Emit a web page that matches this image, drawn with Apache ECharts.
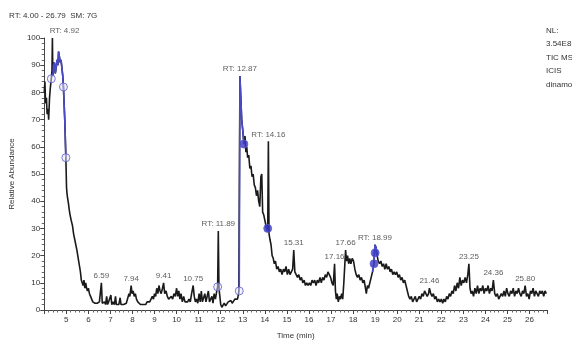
<!DOCTYPE html>
<html>
<head>
<meta charset="utf-8">
<script src="https://cdn.jsdelivr.net/npm/echarts@6/dist/echarts.min.js"></script>
<style>
  html, body { margin: 0; padding: 0; background: #fff; }
  #chart { width: 572px; height: 347px; }
</style>
</head>
<body>
<div id="chart"></div>
<script>
// retention time (min) and relative abundance
const retTime = [
  4.00, 4.03, 4.06, 4.10, 4.13, 4.17, 4.20, 4.24, 4.28, 4.32, 4.35, 4.37, 4.39, 4.42, 4.46, 4.50,
  4.54, 4.58, 4.62, 4.65, 4.69, 4.72, 4.76, 4.80, 4.84, 4.87, 4.93, 4.98, 5.01, 5.03, 5.06, 5.10,
  5.13, 5.17, 5.22, 5.28, 5.33, 5.38, 5.43, 5.48, 5.52, 5.56, 5.60, 5.64, 5.68, 5.72, 5.76, 5.80,
  5.84, 5.88, 5.92, 5.96, 6.00, 6.05, 6.10, 6.15, 6.20, 6.25, 6.30, 6.35, 6.40, 6.45, 6.50, 6.55,
  6.59, 6.63, 6.68, 6.73, 6.78, 6.83, 6.87, 6.92, 6.97, 7.02, 7.06, 7.12, 7.18, 7.23, 7.27, 7.33,
  7.38, 7.44, 7.48, 7.54, 7.60, 7.66, 7.72, 7.78, 7.84, 7.88, 7.94, 7.98, 8.03, 8.08, 8.13, 8.18,
  8.24, 8.30, 8.36, 8.42, 8.48, 8.54, 8.60, 8.66, 8.72, 8.78, 8.84, 8.90, 8.95, 9.00, 9.05, 9.10,
  9.15, 9.20, 9.25, 9.30, 9.36, 9.41, 9.46, 9.52, 9.58, 9.64, 9.70, 9.76, 9.82, 9.88, 9.94, 10.00,
  10.05, 10.10, 10.15, 10.20, 10.26, 10.32, 10.38, 10.44, 10.50, 10.56, 10.62, 10.68, 10.75, 10.80,
  10.85, 10.90, 10.96, 11.02, 11.07, 11.12, 11.17, 11.22, 11.28, 11.33, 11.38, 11.44, 11.49, 11.54,
  11.60, 11.65, 11.70, 11.76, 11.82, 11.86, 11.89, 11.92, 11.96, 12.00, 12.05, 12.10, 12.16, 12.22,
  12.28, 12.34, 12.40, 12.46, 12.52, 12.58, 12.64, 12.70, 12.76, 12.82, 12.84, 12.87, 12.91, 12.95,
  13.00, 13.05, 13.10, 13.14, 13.18, 13.22, 13.27, 13.32, 13.37, 13.42, 13.47, 13.52, 13.57, 13.62,
  13.67, 13.72, 13.77, 13.82, 13.86, 13.90, 13.95, 14.00, 14.05, 14.10, 14.13, 14.16, 14.19, 14.23,
  14.28, 14.33, 14.38, 14.43, 14.48, 14.54, 14.60, 14.66, 14.72, 14.78, 14.84, 14.90, 14.96, 15.02,
  15.08, 15.14, 15.20, 15.26, 15.31, 15.36, 15.42, 15.48, 15.54, 15.60, 15.66, 15.72, 15.78, 15.84,
  15.90, 15.96, 16.02, 16.08, 16.14, 16.20, 16.26, 16.32, 16.38, 16.44, 16.50, 16.56, 16.62, 16.68,
  16.74, 16.80, 16.86, 16.92, 16.98, 17.04, 17.10, 17.16, 17.20, 17.24, 17.28, 17.33, 17.38, 17.43,
  17.48, 17.53, 17.58, 17.62, 17.66, 17.70, 17.75, 17.80, 17.85, 17.90, 17.96, 18.02, 18.08, 18.14,
  18.20, 18.26, 18.32, 18.38, 18.44, 18.50, 18.56, 18.60, 18.65, 18.70, 18.76, 18.82, 18.88, 18.94,
  18.99, 19.04, 19.09, 19.14, 19.20, 19.26, 19.32, 19.38, 19.44, 19.50, 19.56, 19.62, 19.68, 19.74,
  19.80, 19.86, 19.92, 19.98, 20.04, 20.10, 20.16, 20.22, 20.28, 20.34, 20.40, 20.46, 20.52, 20.58,
  20.64, 20.70, 20.76, 20.82, 20.88, 20.94, 21.00, 21.06, 21.12, 21.18, 21.24, 21.30, 21.36, 21.42,
  21.46, 21.52, 21.58, 21.64, 21.70, 21.76, 21.82, 21.88, 21.94, 22.00, 22.06, 22.12, 22.18, 22.24,
  22.30, 22.36, 22.42, 22.48, 22.54, 22.60, 22.66, 22.72, 22.78, 22.84, 22.90, 22.96, 23.02, 23.08,
  23.14, 23.20, 23.25, 23.30, 23.35, 23.40, 23.46, 23.52, 23.58, 23.64, 23.70, 23.76, 23.82, 23.88,
  23.94, 24.00, 24.06, 24.12, 24.18, 24.24, 24.30, 24.36, 24.42, 24.48, 24.54, 24.60, 24.66, 24.72,
  24.78, 24.84, 24.90, 24.96, 25.02, 25.08, 25.14, 25.20, 25.26, 25.32, 25.38, 25.44, 25.50, 25.56,
  25.62, 25.68, 25.74, 25.80, 25.86, 25.92, 25.98, 26.04, 26.10, 26.16, 26.22, 26.28, 26.34, 26.40,
  26.46, 26.52, 26.58, 26.64, 26.70, 26.76
];
const abundance = [
  80, 84, 76, 78, 72, 74, 70, 78, 82, 85, 88, 100, 86, 90, 91, 87,
  89, 92, 90, 95, 93, 91, 92, 89, 86, 82, 70, 56, 45, 43, 41, 39,
  37, 35, 33, 31, 28, 26, 24, 22, 20, 18, 16, 14, 11, 10, 9, 11,
  8, 10, 8, 7, 8, 6, 5, 4, 3, 3.5, 2.5, 2, 2.5, 2, 3, 2.5,
  10, 2.5, 2, 3, 2, 5, 2, 3, 2.5, 5.5, 2, 3, 2, 5, 2, 2.5,
  2, 4.5, 2, 2.5, 2, 2, 2.5, 3, 6, 5, 9, 6, 7, 5, 6, 4,
  3, 3, 2, 2.5, 2, 2.5, 2, 3, 2.5, 3, 3.5, 5, 4, 6, 5, 8,
  6, 9, 7, 6, 8, 10, 6, 7, 5, 4, 3.5, 5, 4, 6, 5, 8,
  5, 7, 4, 6, 3, 5, 3, 2.5, 3, 4, 3, 6, 9, 5,
  3, 4, 2.5, 6, 3, 7, 3, 2.5, 6, 3, 2.5, 7, 3, 2.5,
  5, 2.5, 6, 4, 7, 8.5, 29, 8, 5, 2, 1, 1.5, 2.5, 1.5,
  2, 3, 2.5, 3.5, 2.5, 3, 4, 3.5, 4, 6.5, 7, 86, 78, 70,
  66, 61, 64, 58, 60, 56, 57, 52, 53, 49, 50, 46, 45, 42,
  44, 40, 38, 49, 50, 36, 35, 33, 31, 29, 30, 62, 28, 26,
  24, 20, 19, 17, 18, 15, 16, 14, 15, 13, 15, 14, 16, 13,
  15, 13, 14, 15, 22, 14, 13, 12, 13, 11, 12, 10, 11, 9,
  10, 9, 10, 9, 11, 10, 11, 9, 11, 10, 12, 10, 12, 11,
  13, 12, 14, 13, 12, 10, 9, 17, 7, 4, 6, 3, 5, 4,
  6, 4, 10, 16, 22, 18, 20, 17, 19, 17, 19, 18, 15, 13,
  12, 13, 11, 12, 10, 11, 8, 6, 9, 8, 10, 12, 14, 17,
  24, 23, 20, 18, 17, 18, 16, 17, 15, 17, 15, 16, 14, 15,
  13, 14, 13, 14, 12, 13, 11, 12, 10, 11, 9, 7, 5, 4,
  5, 3, 4, 5, 3, 4, 5, 4, 6, 5, 7, 6, 5, 6,
  8, 6, 5, 6, 4, 5, 3, 4, 3, 4, 2.5, 4, 3, 5,
  4, 6, 5, 7, 6, 9, 7, 10, 8, 12, 9, 11, 10, 12,
  10, 13, 17, 8, 6, 7, 5, 8, 6, 9, 6, 8, 7, 9,
  6, 8, 7, 9, 6, 8, 7, 11, 6, 5, 6, 4, 5, 6,
  5, 7, 5, 8, 6, 5, 7, 6, 8, 5, 7, 6, 8, 6,
  5, 7, 6, 9, 5, 6, 4, 7, 6, 8, 5, 7, 6, 5,
  7, 6, 7, 5, 7, 6
];

// integrated ranges drawn in blue
const highlightRanges = [[4.39, 4.98], [12.84, 13.05], [14.05, 14.13], [18.88, 19.09]];

// peak boundary markers
const markerTime = [4.32, 4.87, 4.98, 11.86, 12.84, 13.05, 14.13, 18.95, 19.00];
const markerValue = [85, 82, 56, 8.5, 7, 61, 30, 17, 21];
const markerFilled = [false, false, false, false, false, true, true, true, true];

// peak labels
const peakTime = [4.92, 6.59, 7.94, 9.41, 10.75, 11.89, 12.87, 14.16, 15.31, 17.16, 17.66, 18.99, 21.46, 23.25, 24.36, 25.80];
const peakHeight = [100, 10, 9, 10, 9, 29, 86, 62, 22, 17, 22, 24, 8, 17, 11, 9];
const peakText = ["RT: 4.92", "6.59", "7.94", "9.41", "10.75", "RT: 11.89", "RT: 12.87", "RT: 14.16",
  "15.31", "17.16", "17.66", "RT: 18.99", "21.46", "23.25", "24.36", "25.80"];

const yTicks = [0, 10, 20, 30, 40, 50, 60, 70, 80, 90, 100];

const font = "Liberation Sans Narrow, Arial Narrow, sans-serif";

const trace = retTime.map((t, i) => [t, abundance[i]]);
const blueTrace = retTime.map((t, i) => {
  const inside = highlightRanges.some((r) => t >= r[0] && t <= r[1]);
  return inside ? [t, abundance[i]] : [t, null];
});

const chart = echarts.init(document.getElementById("chart"));

chart.setOption({
  animation: false,
  title: {
    text: "RT: 4.00 - 26.79  SM: 7G",
    left: 4,
    top: 7,
    textStyle: { fontFamily: font, fontSize: 8, fontWeight: "normal", color: "#333" },
  },
  graphic: [
    {
      type: "text",
      left: 546,
      top: 24,
      style: {
        text: "NL:\n3.54E8\nTIC MS\nICIS\ndinamon",
        font: "8px " + font,
        fill: "#333",
        lineHeight: 13.5,
      },
    },
  ],
  grid: { left: 33, right: 25, top: 38, bottom: 37 },
  xAxis: {
    type: "value",
    min: 4,
    max: 26.79,
    interval: 1,
    name: "Time (min)",
    nameLocation: "middle",
    nameGap: 22,
    nameTextStyle: { fontFamily: font, fontSize: 8, color: "#333" },
    axisLine: { lineStyle: { color: "#444" } },
    axisTick: { length: 4, lineStyle: { color: "#444" } },
    minorTick: { show: true, splitNumber: 5, length: 2.5, lineStyle: { color: "#666" } },
    splitLine: { show: false },
    axisLabel: {
      fontFamily: font,
      fontSize: 8,
      color: "#333",
      margin: 6,
      showMaxLabel: false,
      formatter: (v) => (v === 4 ? "" : String(v)),
    },
  },
  yAxis: {
    type: "value",
    min: yTicks[0],
    max: yTicks[yTicks.length - 1],
    interval: yTicks[1] - yTicks[0],
    name: "Relative Abundance",
    nameLocation: "middle",
    nameRotate: 90,
    nameGap: 19,
    nameTextStyle: { fontFamily: font, fontSize: 8, color: "#333" },
    axisLine: { show: true, lineStyle: { color: "#444" } },
    axisTick: { show: true, length: 4, lineStyle: { color: "#444" } },
    minorTick: { show: true, splitNumber: 5, length: 2.5, lineStyle: { color: "#666" } },
    splitLine: { show: false },
    axisLabel: { fontFamily: font, fontSize: 8, color: "#333", margin: 4 },
  },
  series: [
    {
      name: "trace",
      type: "line",
      data: trace,
      showSymbol: false,
      lineStyle: { color: "#1a1a1a", width: 1.6 },
      z: 2,
    },
    {
      name: "integrated",
      type: "line",
      data: blueTrace,
      showSymbol: false,
      connectNulls: false,
      lineStyle: { color: "#4a4ac8", width: 1.6 },
      z: 3,
    },
    {
      name: "markers",
      type: "scatter",
      symbol: "circle",
      symbolSize: 8,
      data: markerTime.map((t, i) => ({
        value: [t, markerValue[i]],
        itemStyle: {
          color: markerFilled[i] ? "#3a3ac0" : "rgba(230,230,250,0.6)",
          borderColor: "#5a5ad0",
          borderWidth: 1,
        },
      })),
      z: 4,
    },
    {
      name: "labels",
      type: "scatter",
      symbolSize: 0,
      silent: true,
      data: peakTime.map((t, i) => ({ value: [t, peakHeight[i]], name: peakText[i] })),
      label: {
        show: true,
        position: "top",
        distance: 3,
        formatter: (p) => p.name,
        fontFamily: font,
        fontSize: 8,
        color: "#333",
      },
      z: 5,
    },
  ],
});
</script>
</body>
</html>
